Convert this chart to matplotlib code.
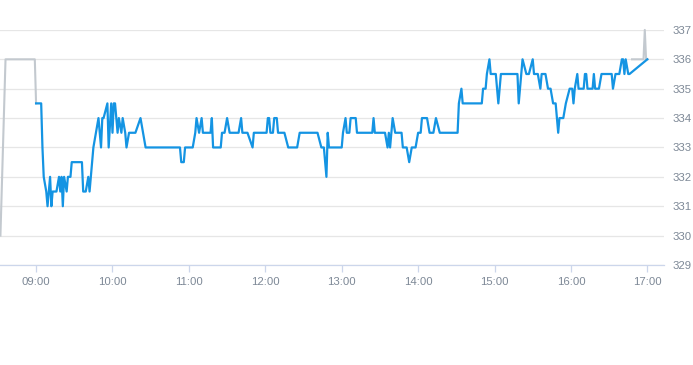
import matplotlib
matplotlib.use("Agg")
import matplotlib.pyplot as plt
import matplotlib.dates as mdates
import pandas as pd

DAY = "2024-01-02 "

# pre-market / after-hours (grey)
pre_times = ["08:32", "08:36", "08:59", "09:00"]
pre_values = [330.0, 336.0, 336.0, 334.5]
post_times = ["16:48", "16:57", "16:58", "16:59", "17:00"]
post_values = [336.0, 336.0, 337.0, 336.0, 336.0]

# regular session (blue)
times = [
    "09:00", "09:04", "09:05", "09:06", "09:08", "09:09", "09:11", "09:12",
    "09:13", "09:16", "09:18", "09:19", "09:20", "09:21", "09:22", "09:24",
    "09:25", "09:27", "09:28", "09:36", "09:37", "09:39", "09:41", "09:42",
    "09:45", "09:47", "09:49", "09:51", "09:52", "09:53", "09:56", "09:57",
    "09:59", "10:00", "10:01", "10:02", "10:04", "10:05", "10:07", "10:08",
    "10:10", "10:11", "10:13", "10:18", "10:22", "10:26", "10:53", "10:54",
    "10:56", "10:57", "11:03", "11:05", "11:06", "11:08", "11:10", "11:11",
    "11:17", "11:18", "11:19", "11:25", "11:26", "11:28", "11:30", "11:32",
    "11:39", "11:41", "11:42", "11:46", "11:50", "11:51", "12:01", "12:02",
    "12:03", "12:04", "12:06", "12:07", "12:09", "12:10", "12:15", "12:18",
    "12:25", "12:27", "12:41", "12:44", "12:46", "12:48", "12:49", "12:50",
    "13:00", "13:01", "13:03", "13:04", "13:06", "13:07", "13:11", "13:12",
    "13:24", "13:25", "13:26", "13:34", "13:36", "13:37", "13:38", "13:40",
    "13:42", "13:47", "13:48", "13:51", "13:53", "13:55", "13:58", "14:00",
    "14:02", "14:03", "14:07", "14:09", "14:12", "14:14", "14:17", "14:31",
    "14:32", "14:34", "14:35", "14:50", "14:51", "14:53", "14:54", "14:56",
    "14:57", "15:01", "15:03", "15:05", "15:18", "15:19", "15:21", "15:22",
    "15:25", "15:27", "15:30", "15:31", "15:34", "15:36", "15:37", "15:40",
    "15:42", "15:44", "15:46", "15:48", "15:49", "15:50", "15:51", "15:54",
    "15:56", "15:59", "16:01", "16:02", "16:03", "16:05", "16:06", "16:10",
    "16:11", "16:12", "16:13", "16:17", "16:18", "16:19", "16:22", "16:24",
    "16:32", "16:33", "16:35", "16:38", "16:40", "16:41", "16:42", "16:43",
    "16:45", "16:46", "17:00",
]
values = [
    334.5, 334.5, 333.0, 332.0, 331.5, 331.0, 332.0, 331.0,
    331.5, 331.5, 332.0, 331.5, 332.0, 331.0, 332.0, 331.5,
    332.0, 332.0, 332.5, 332.5, 331.5, 331.5, 332.0, 331.5,
    333.0, 333.5, 334.0, 333.0, 334.0, 334.0, 334.5, 333.0,
    334.5, 333.5, 334.5, 334.5, 333.5, 334.0, 333.5, 334.0,
    333.5, 333.0, 333.5, 333.5, 334.0, 333.0, 333.0, 332.5,
    332.5, 333.0, 333.0, 333.5, 334.0, 333.5, 334.0, 333.5,
    333.5, 334.0, 333.0, 333.0, 333.5, 333.5, 334.0, 333.5,
    333.5, 334.0, 333.5, 333.5, 333.0, 333.5, 333.5, 334.0,
    334.0, 333.5, 333.5, 334.0, 334.0, 333.5, 333.5, 333.0,
    333.0, 333.5, 333.5, 333.0, 333.0, 332.0, 333.5, 333.0,
    333.0, 333.5, 334.0, 333.5, 333.5, 334.0, 334.0, 333.5,
    333.5, 334.0, 333.5, 333.5, 333.0, 333.5, 333.0, 334.0,
    333.5, 333.5, 333.0, 333.0, 332.5, 333.0, 333.0, 333.5,
    333.5, 334.0, 334.0, 333.5, 333.5, 334.0, 333.5, 333.5,
    334.5, 335.0, 334.5, 334.5, 335.0, 335.0, 335.5, 336.0,
    335.5, 335.5, 334.5, 335.5, 335.5, 334.5, 335.5, 336.0,
    335.5, 335.5, 336.0, 335.5, 335.5, 335.0, 335.5, 335.5,
    335.0, 335.0, 334.5, 334.5, 334.0, 333.5, 334.0, 334.0,
    334.5, 335.0, 335.0, 334.5, 335.0, 335.5, 335.0, 335.0,
    335.5, 335.5, 335.0, 335.0, 335.5, 335.0, 335.0, 335.5,
    335.5, 335.0, 335.5, 335.5, 336.0, 336.0, 335.5, 336.0,
    335.5, 335.5, 336.0,
]

hour_ticks = ["09:00", "10:00", "11:00", "12:00", "13:00", "14:00",
              "15:00", "16:00", "17:00"]
y_ticks = [329, 330, 331, 332, 333, 334, 335, 336, 337]


def to_dt(lst):
    return pd.to_datetime([DAY + t for t in lst])


plt.rcParams["font.family"] = ["Liberation Sans", "DejaVu Sans"]

fig = plt.figure(figsize=(6.93, 3.65), dpi=100)
ax = fig.add_axes([0.0, 0.274, 0.958, 0.644])

label_col = "#7d8896"
grid_col = "#e6e6e6"
axis_col = "#ccd6eb"

ax.plot(to_dt(pre_times), pre_values, color="#c3c9cf", lw=1.5,
        clip_on=False, zorder=2)
ax.plot(to_dt(post_times), post_values, color="#c3c9cf", lw=1.5,
        clip_on=False, zorder=2)
ax.plot(to_dt(times), values, color="#1494e3", lw=1.6,
        clip_on=False, zorder=3, solid_joinstyle="round")

ax.set_xlim(pd.Timestamp(DAY + "08:31:40"), pd.Timestamp(DAY + "17:13"))
ax.set_ylim(329, 337)

ax.set_yticks(y_ticks)
ax.yaxis.tick_right()
ax.tick_params(axis="y", length=0, pad=6, labelsize=8.2,
               labelcolor=label_col)
ax.grid(axis="y", color=grid_col, lw=0.9)

ax.set_xticks(to_dt(hour_ticks))
ax.xaxis.set_major_formatter(mdates.DateFormatter("%H:%M"))
ax.tick_params(axis="x", length=5, width=0.9, color=axis_col, pad=4,
               labelsize=8.2, labelcolor=label_col)

for s in ["top", "left", "right"]:
    ax.spines[s].set_visible(False)
ax.spines["bottom"].set_color(axis_col)
ax.spines["bottom"].set_linewidth(0.9)
ax.set_axisbelow(True)

fig.savefig("out.png", dpi=100)
